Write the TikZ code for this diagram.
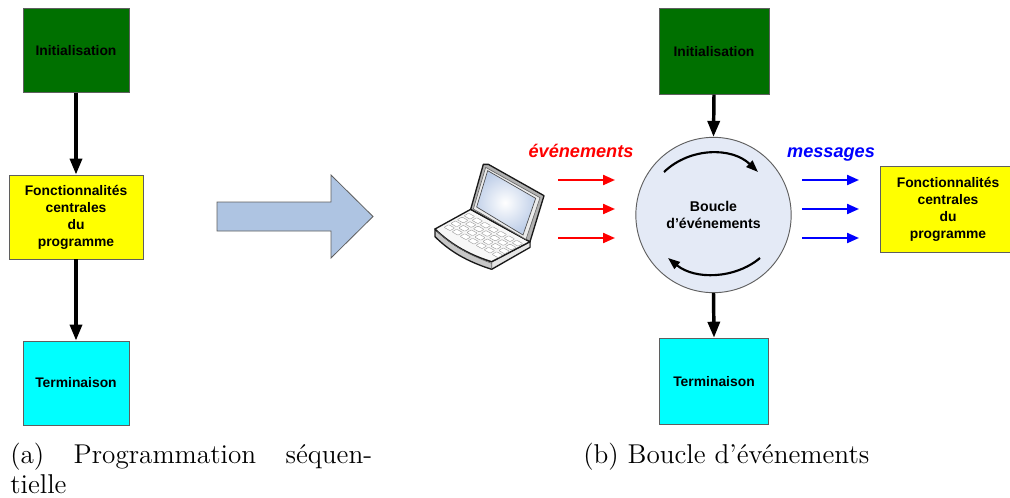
\documentclass[tikz,border=0pt]{standalone}
\usepackage{fontspec}
\setmainfont{Latin Modern Roman}
\newfontfamily\arialb[Scale=1]{Liberation Sans}
\newfontfamily\capfont{lmroman12-regular.otf}
\usetikzlibrary{arrows.meta}
\definecolor{gbox}{RGB}{0,112,0}
\definecolor{ybox}{RGB}{255,255,0}
\definecolor{cbox}{RGB}{0,255,255}
\definecolor{edgeg}{RGB}{95,95,95}
\definecolor{bluearrow}{RGB}{174,196,226}
\definecolor{loopfill}{RGB}{228,234,246}
\definecolor{scrblue}{RGB}{190,206,232}
\tikzset{
 x=0.75pt,y=-0.75pt,
 boxstyle/.style={draw=edgeg,line width=0.7pt,inner sep=0pt,align=center,
   font=\arialb\bfseries\fontsize{10.4}{12.75}\selectfont,text=black},
 initbox/.style={boxstyle,fill=gbox,minimum width=79.5pt,minimum height=62.5pt},
 termbox/.style={boxstyle,fill=cbox,minimum width=79.5pt,minimum height=64pt},
 funcbox/.style={boxstyle,fill=ybox,minimum width=100.5pt,minimum height=63pt},
 flowarrow/.style={line width=2.6pt,-{Triangle[length=12pt,width=9pt]}},
 looparrow/.style={line width=1.6pt,black,-{Triangle[length=9pt,width=6.5pt]}},
 evarrow/.style={line width=1.6pt,-{Triangle[length=9pt,width=7.5pt]}},
 evlabel/.style={inner sep=0pt,anchor=base,font=\arialb\bfseries\itshape\fontsize{13.6}{16}\selectfont},
 captionnode/.style={inner sep=0pt,anchor=north west,font=\capfont\fontsize{20.4}{23}\selectfont},
 lapline/.style={line width=1pt,line join=round,draw=black!90},
}
\begin{document}
\begin{tikzpicture}
\clip (0,0) rectangle (1010,497);
% left column
\node[initbox] (i1) at (76,50.5) {Initialisation};
\node[funcbox] (f1) at (76,217) {Fonctionnalités\\centrales\\du\\programme};
\node[termbox,minimum height=63pt] (t1) at (76,383) {Terminaison};
\draw[flowarrow] (i1.south) -- (f1.north);
\draw[flowarrow] (f1.south) -- (t1.north);
% block arrow
\draw[draw=edgeg,line width=0.6pt,fill=bluearrow] (217,202) -- (331,202) -- (331,175) -- (373,216.5) -- (331,258) -- (331,231) -- (217,231) -- cycle;
% right column
\node[initbox,minimum width=82.5pt,minimum height=64pt] (i2) at (714,51.5) {Initialisation};
\node[draw=edgeg,line width=0.7pt,fill=loopfill,circle,minimum size=116.5pt,inner sep=0pt,align=center,
  font=\arialb\bfseries\fontsize{10.6}{12.75}\selectfont,text=black] (loop) at (713.5,215) {Boucle\\d’événements};
\node[termbox,minimum width=81.75pt,minimum height=65pt] (t2) at (714,381.5) {Terminaison};
\node[funcbox,minimum width=102pt,minimum height=64pt] (f2) at (948,209.5) {Fonctionnalités\\centrales\\du\\programme};
\draw[flowarrow] (i2.south) -- (loop.north);
\draw[flowarrow] (loop.south) -- (t2.north);
% loop arrows
\coordinate (la) at (664,172); \coordinate (lb) at (758,172);
\coordinate (lc) at (760,258); \coordinate (ld) at (668,258);
\draw[looparrow] (la) .. controls (690,147) and (732,147) .. (lb);
\draw[looparrow] (lc) .. controls (735,279) and (695,280) .. (ld);
% event arrows
\foreach \n/\y in {1/180,2/209,3/238}{
  \coordinate (ra\n) at (558,\y); \coordinate (rb\n) at (615,\y);
  \coordinate (ba\n) at (802,\y); \coordinate (bb\n) at (859,\y);
  \draw[evarrow,red] (ra\n) -- (rb\n);
  \draw[evarrow,blue] (ba\n) -- (bb\n);
}
\node[evlabel,text=red] (ev) at (581,157.5) {événements};
\node[evlabel,text=blue] (ms) at (831,157) {messages};
% laptop
\begin{scope}[shift={(420,130)},x=0.25pt,y=-0.25pt]
  % base
  \draw[lapline,fill=black!22] (45,297) -- (45,320) .. controls (100,375) and (160,400) .. (215,418) -- (330,352) -- (330,335) -- (215,395) .. controls (150,375) and (95,345) .. cycle;
  \draw[lapline,fill=black!3] (45,297) -- (152,238) -- (330,335) -- (215,395) .. controls (150,375) and (95,345) .. cycle;
  \fill[black!10] (218,398) -- (328,340) -- (328,350) -- (218,412) -- cycle;
  \draw[line width=0.4pt,black!60] (52,305) .. controls (100,350) and (155,378) .. (215,400) -- (215,418);
  % keys
  \foreach \r in {0,...,3}{\foreach \c in {0,...,6}{
    \pgfmathsetmacro{\kx}{72+\c*24+\r*20}
    \pgfmathsetmacro{\ky}{292+\c*13.5-\r*11.5}
    \draw[line width=0.3pt,draw=black!40,fill=white,rounded corners=0.5pt]
      (\kx,\ky) -- ++(14,-8) -- ++(18,10) -- ++(-14,8) -- cycle;
  }}
  % lid
  \draw[lapline,fill=black!30] (190,103) -- (205,103) -- (372,197) -- (330,335) -- (316,328) -- (152,238) -- cycle;
  \draw[line width=0.5pt,fill=black!8,draw=black!60] (197,112) -- (360,203) -- (318,328) -- (160,237) -- cycle;
  \begin{scope}
    \clip (203,122) -- (347,205) -- (309,315) -- (170,231) -- cycle;
    \fill[scrblue] (150,100) rectangle (380,340);
    \shade[inner color=white,outer color=scrblue] (255,218) circle (95);
  \end{scope}
  \draw[line width=0.5pt,black!70] (203,122) -- (347,205) -- (309,315) -- (170,231) -- cycle;
\end{scope}
% captions
\node[captionnode,text width=271.5pt,align=justify] (ca) at (10,442.5) {(a) Programmation séquen-\linebreak tielle};
\node[captionnode] (cb) at (583,442.5) {(b) Boucle d’événements};
\end{tikzpicture}
\end{document}
